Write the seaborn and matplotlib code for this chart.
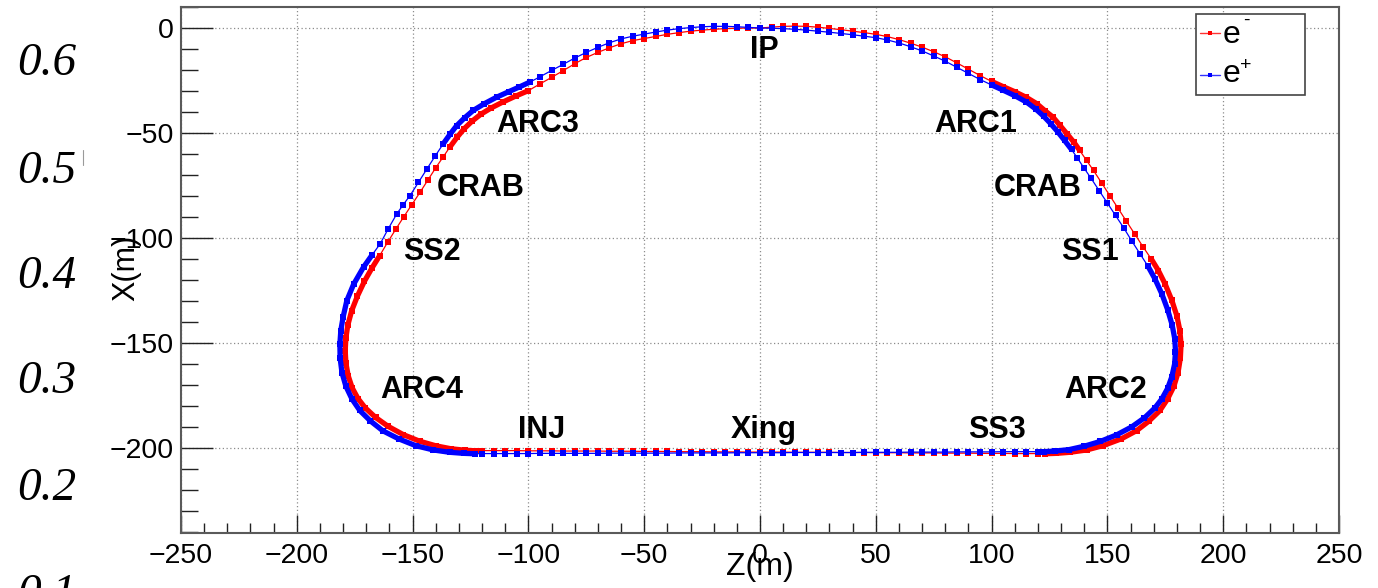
import numpy as np
import pandas as pd
import matplotlib
matplotlib.use("Agg")
import matplotlib.pyplot as plt
from matplotlib.patches import Rectangle
from matplotlib.lines import Line2D
from matplotlib.ticker import MultipleLocator
import seaborn as sns

# ---------------- beam orbits, Z and X in metres ----------------
# common Z stations along the long bottom straight (right to left)
straight_z = [120, 115, 110, 105, 100, 95, 90, 85, 80, 75, 70, 65, 60, 55, 50,
              45, 40, 35, 30, 25, 20, 15, 10, 5, 0, -5, -10, -15, -20, -25,
              -30, -35, -40, -45, -50, -55, -60, -65, -70, -75, -80, -85, -90,
              -95, -100, -105, -110, -115, -120]

# e- : IP -> right side (outer ring) -> bottom -> left side (inner ring) -> IP
eminus_right_z = [0, 5, 10, 15, 20, 25, 30, 35, 40, 45, 50, 55, 60, 65, 70, 75,
                  80, 85, 90, 95, 100, 105, 110, 115, 119.5, 123, 126.5, 129.5,
                  132.5, 135.5, 138, 141, 144, 147.5, 151, 154.5, 158, 161.8,
                  165.5, 169, 172, 175, 177.8, 180, 181.3, 181.8, 181.5, 180.5,
                  178.7, 176, 172.7, 168, 162.6, 156, 148.2, 141, 133.8, 128, 123]
eminus_right_x = [0, 0.4, 0.8, 0.9, 0.8, 0.4, -0.2, -0.8, -1.5, -2.2, -3.0, -4.1,
                  -5.5, -7.2, -9.1, -11.3, -13.7, -16.6, -19.6, -22.6, -25.4,
                  -27.9, -30.3, -33.0, -36.0, -39.3, -42.4, -46.3, -50.3, -54.3,
                  -58.2, -63.0, -67.8, -73.7, -79.7, -85.6, -91.6, -98.0, -104.3,
                  -110.0, -115.4, -122.0, -129.5, -137.0, -144.0, -150.5, -157.0,
                  -164.0, -170.5, -176.5, -182.0, -187.0, -191.6, -195.5, -198.7,
                  -200.8, -201.9, -202.4, -202.6]
eminus_straight_x = [-202.5, -202.5, -202.5, -202.4, -202.4, -202.4, -202.3,
                     -202.3, -202.3, -202.2, -202.2, -202.2, -202.1, -202.1,
                     -202.1, -202.0, -202.0, -202.0, -201.9, -201.9, -201.9,
                     -201.9, -201.8, -201.8, -201.8, -201.8, -201.7, -201.7,
                     -201.7, -201.6, -201.6, -201.6, -201.5, -201.5, -201.5,
                     -201.4, -201.4, -201.4, -201.3, -201.3, -201.3, -201.3,
                     -201.2, -201.2, -201.2, -201.1, -201.1, -201.1, -201.1]
eminus_left_z = [-122.5, -127.5, -133.5, -140, -147, -154, -160.5, -166, -170.5,
                 -173.6, -176.1, -177.8, -178.8, -179.1, -178.8, -178, -176.3,
                 -173.8, -170.8, -167.6, -164.2, -160.8, -157.3, -153.8, -150.3,
                 -146.8, -143.3, -140, -136.8, -133.8, -130.8, -127.8, -124.3,
                 -120.5, -116, -111, -105.5, -100, -95, -90, -85, -80, -75, -70,
                 -65, -60, -55, -50, -45, -40, -35, -30, -25, -20, -15, -10, -5, 0]
eminus_left_x = [-201.2, -200.9, -200.2, -198.8, -196.6, -193.5, -189.6, -185.3,
                 -180.7, -176.3, -171.2, -165.5, -159.5, -153.5, -147.5, -141.5,
                 -134.5, -127.5, -120.5, -114.3, -108.3, -102.0, -95.8, -89.8,
                 -84.0, -78.2, -72.2, -66.5, -61.3, -56.5, -52.0, -48.0, -44.3,
                 -41.0, -38.0, -35.2, -32.4, -29.8, -26.6, -23.5, -20.3, -17.0,
                 -14.0, -11.6, -9.4, -7.5, -6.0, -5.0, -4.0, -3.0, -2.2, -1.5,
                 -1.0, -0.6, -0.3, -0.1, 0.0, 0.0]

# e+ : IP -> right side (inner ring) -> bottom -> left side (outer ring) -> IP
eplus_right_z = [0, 5, 10, 15, 20, 25, 30, 35, 40, 45, 50, 55, 60, 65, 70, 75,
                 80, 85, 90, 95, 100, 105, 110, 115, 119, 122.5, 125.5, 128.5,
                 131.5, 134.5, 137, 140, 143, 146.5, 150, 153.5, 157, 160.5, 164,
                 167.5, 170.5, 173.5, 176, 178, 179.1, 179.4, 179, 177.8, 176,
                 173.5, 170.5, 166, 160.5, 154, 147, 140, 133.5, 127.5, 122.5]
eplus_right_x = [0, -0.1, -0.3, -0.6, -1.0, -1.5, -2.0, -2.6, -3.2, -3.9, -4.6,
                 -5.7, -7.1, -8.9, -10.9, -13.3, -15.8, -18.7, -21.6, -24.5, -27.1,
                 -29.6, -32.2, -35.2, -38.5, -42.0, -45.5, -49.3, -53.5, -57.8,
                 -61.8, -66.8, -71.6, -77.5, -83.3, -89.2, -95.0, -101.3, -107.3,
                 -113.3, -119.3, -126.5, -134.0, -141.5, -148.0, -154.0, -160.0,
                 -166.0, -171.5, -176.5, -180.8, -185.5, -189.8, -193.6, -196.7,
                 -199.0, -200.6, -201.3, -201.6]
eplus_straight_x = [-201.6, -201.6, -201.6, -201.6, -201.7, -201.7, -201.7,
                    -201.7, -201.8, -201.8, -201.8, -201.8, -201.9, -201.9,
                    -201.9, -201.9, -202.0, -202.0, -202.0, -202.0, -202.0,
                    -202.0, -202.1, -202.1, -202.1, -202.1, -202.1, -202.2,
                    -202.2, -202.2, -202.2, -202.2, -202.3, -202.3, -202.3,
                    -202.3, -202.3, -202.3, -202.4, -202.4, -202.4, -202.4,
                    -202.4, -202.4, -202.5, -202.5, -202.5, -202.5, -202.5]
eplus_left_z = [-123, -128, -134, -141, -148.5, -156, -162.8, -168.2, -172.8,
                -176.2, -178.8, -180.5, -181.3, -181.4, -181, -180, -178.4, -175.5,
                -171.2, -167.5, -164, -160.5, -156.8, -154, -151.1, -147.5,
                -143.9, -140.3, -136.7, -133.8, -131, -127.5, -123.8, -119,
                -113.7, -108.5, -104, -99.3, -95, -90, -85, -80, -75, -70, -65,
                -60, -55, -50, -45, -40, -35, -30, -25, -20, -15, -10, -5, 0]
eplus_left_x = [-202.6, -202.4, -201.9, -200.8, -198.8, -195.5, -191.7, -187.0,
                -182.0, -176.5, -170.5, -164.0, -157.0, -150.5, -144.0, -137.5,
                -129.7, -122.0, -113.8, -108.0, -102.7, -95.5, -88.4, -84.0,
                -79.7, -73.5, -67.2, -61.0, -55.0, -50.5, -46.5, -42.7, -39.2,
                -36.0, -32.9, -30.3, -28.1, -25.7, -23.2, -20.2, -17.3, -14.3,
                -11.6, -9.2, -7.0, -5.2, -3.9, -2.9, -1.9, -1.0, -0.3, 0.2, 0.6,
                0.8, 0.8, 0.6, 0.3, 0.0]

# ring section names and where they are written
section_names = ["IP", "ARC1", "ARC3", "CRAB", "CRAB", "SS1", "SS2",
                 "ARC2", "ARC4", "INJ", "Xing", "SS3"]
section_z = [1.7, 93.2, -96.1, 120.0, -120.4, 142.5, -141.8,
             149.1, -145.9, -94.3, 1.7, 102.5]
section_x = [-14.4, -49.7, -49.7, -80.1, -80.1, -110.6, -110.6,
             -175.9, -175.9, -195.1, -195.1, -195.1]

# tick values of the neighbouring panel visible at the left edge
side_values = ["0.6", "0.5", "0.4", "0.3", "0.2", "0.1"]

# ---------------- style ----------------
sns.set_style("white")
plt.rcParams["font.family"] = ["Liberation Sans", "DejaVu Sans"]
plt.rcParams["text.color"] = "black"
plt.rcParams["axes.labelcolor"] = "black"
plt.rcParams["xtick.color"] = "black"
plt.rcParams["ytick.color"] = "black"

W, H = 1378, 588
fig = plt.figure(figsize=(W / 100, H / 100), dpi=100)
L, R, T, B = 181, 1339, 7, 533
ax = fig.add_axes([L / W, (H - B) / H, (R - L) / W, (B - T) / H])

RED = "#ff0000"
BLUE = "#0000ff"


def orbit(z_parts, x_parts):
    z = np.concatenate([np.asarray(p, float) for p in z_parts])
    x = np.concatenate([np.asarray(p, float) for p in x_parts])
    return pd.DataFrame({"Z": z, "X": x})


eminus = orbit([eminus_right_z, straight_z, eminus_left_z],
               [eminus_right_x, eminus_straight_x, eminus_left_x])
eplus = orbit([eplus_right_z, straight_z, eplus_left_z],
              [eplus_right_x, eplus_straight_x, eplus_left_x])


def draw_orbit(df, color):
    # thin orbit line with a marker at every element
    sns.lineplot(data=df, x="Z", y="X", sort=False, estimator=None, ax=ax,
                 color=color, linewidth=0.9, marker="s", markersize=3.9,
                 markeredgewidth=0, zorder=3)
    # dense-magnet arcs appear as a solid band
    az = df["Z"].abs().to_numpy()
    xx = df["X"].to_numpy()
    mask = ((az >= 99) & (xx >= -60)) | ((xx <= -108) & (az >= 121))
    idx = np.flatnonzero(mask)
    for run in np.split(idx, np.where(np.diff(idx) > 1)[0] + 1):
        if len(run) < 2:
            continue
        sns.lineplot(data=df.iloc[run], x="Z", y="X", sort=False,
                     estimator=None, ax=ax, color=color, linewidth=3.8,
                     zorder=3)


draw_orbit(eminus, RED)
draw_orbit(eplus, BLUE)

# section labels
for name, z, x in zip(section_names, section_z, section_x):
    ax.text(z, x, name, fontsize=22, fontweight="bold", ha="center",
            va="baseline", color="black", zorder=5)

# ---------------- axes ----------------
ax.set_xlim(-250, 250)
ax.set_ylim(-240.3, 10)
ax.xaxis.set_major_locator(MultipleLocator(50))
ax.xaxis.set_minor_locator(MultipleLocator(10))
ax.yaxis.set_major_locator(MultipleLocator(50))
ax.yaxis.set_minor_locator(MultipleLocator(10))
ax.grid(True, which="major", color="#8c8c8c", linestyle=(0, (1, 2)),
        linewidth=0.9)
ax.set_axisbelow(True)

ax.tick_params(axis="x", which="major", direction="in", length=13, width=1.0,
               color="#222222", labelcolor="black", labelsize=20.5, pad=7,
               bottom=True, top=False)
ax.tick_params(axis="x", which="minor", direction="in", length=7, width=1.0,
               color="#222222", bottom=True, top=False)
ax.tick_params(axis="y", which="major", direction="in", length=23, width=1.0,
               color="#222222", labelcolor="black", labelsize=20.5, pad=5,
               left=True, right=False)
ax.tick_params(axis="y", which="minor", direction="in", length=12, width=1.0,
               color="#222222", left=True, right=False)
for s in ax.spines.values():
    s.set_color("#5a5a5a")
    s.set_linewidth(1.5)
    s.set_visible(True)

ax.set_xlabel("Z(m)", fontsize=23, color="black")
ax.xaxis.set_label_coords((760 - L) / (R - L), (B - 567) / (B - T))
ax.xaxis.label.set_va("center")
ax.set_ylabel("X(m)", fontsize=22, color="black")
ax.yaxis.set_label_coords((126 - L) / (R - L), (B - 268) / (B - T))
ax.yaxis.label.set_va("center")


# ---------------- legend box ----------------
def axc(px, py):
    return (px - L) / (R - L), (B - py) / (B - T)


x0, y0 = axc(1196, 95)
x1, y1 = axc(1305, 14)
ax.add_patch(Rectangle((x0, y0), x1 - x0, y1 - y0, transform=ax.transAxes,
                       facecolor="white", edgecolor="#444444", linewidth=1.2,
                       zorder=6))
for color, py_line, py_e, sup, py_sup in [(RED, 33, 35, "-", 20),
                                          (BLUE, 75, 73.5, "+", 65.5)]:
    lx0, ly = axc(1200, py_line)
    lx1, _ = axc(1220, py_line)
    ax.add_line(Line2D([lx0, lx1], [ly, ly], transform=ax.transAxes,
                       color=color, linewidth=1.0, alpha=0.8, zorder=7))
    mx, _ = axc(1210, py_line)
    ax.add_line(Line2D([mx], [ly], transform=ax.transAxes, color=color,
                       marker="s", markersize=3.0, markeredgewidth=0,
                       linestyle="none", zorder=7))
    ex, ey = axc(1223, py_e)
    ax.text(ex, ey, "e", transform=ax.transAxes, fontsize=23, ha="left",
            va="center", zorder=7)
    sx, sy = axc(1246, py_sup)
    ax.text(sx, sy, sup, transform=ax.transAxes, fontsize=14, ha="center",
            va="center", zorder=7)

# ---------------- neighbouring panel tick values ----------------
for label, py in zip(side_values, [75, 183, 288, 393, 500, 606]):
    fig.text(76 / W, 1 - py / H, label, fontsize=34, style="italic",
             family=["Liberation Serif", "DejaVu Serif"], ha="right",
             va="baseline", color="black")
fig.add_artist(Line2D([83 / W, 83 / W], [1 - 150 / H, 1 - 165 / H],
                      transform=fig.transFigure, color="#9a9a9a",
                      linewidth=0.8))

fig.savefig("out.png", dpi=100)
